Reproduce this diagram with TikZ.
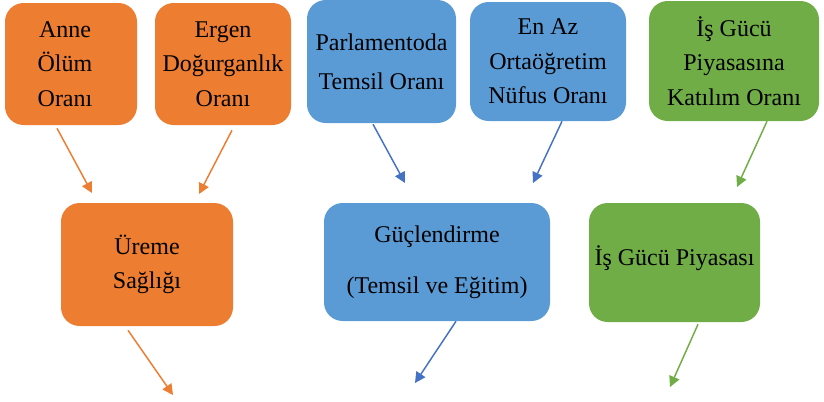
\documentclass[tikz,border=0pt]{standalone}
\usepackage{fontspec}
\setmainfont{Liberation Serif}
\newfontfamily\kutuyazi{Liberation Serif}
\usetikzlibrary{arrows.meta,calc}
\definecolor{turuncu}{HTML}{ED7D31}
\definecolor{mavi}{HTML}{5B9BD5}
\definecolor{koyumavi}{HTML}{4472C4}
\definecolor{yesil}{HTML}{70AD47}
\begin{document}
\begin{tikzpicture}[
    x=0.75pt, y=-0.75pt,
    kutu/.style={rectangle, rounded corners=14pt, align=center, inner sep=0pt,
        font=\kutuyazi\fontsize{18}{26}\selectfont},
    ok/.style={-{Triangle[length=8pt,width=8pt]}, line width=1.1pt}
]
    \useasboundingbox (0,0) rectangle (824,401);

    % Ust satir
    \node[kutu, fill=turuncu, minimum width=99pt, minimum height=91.5pt] (anne) at (71,64) {\hspace*{-9pt}\parbox{80pt}{\centering Anne\\Ölüm\\Oranı}};
    \node[kutu, fill=turuncu, minimum width=102pt, minimum height=91.5pt] (ergen) at (223,64) {Ergen\\Doğurganlık\\Oranı};
    \node[kutu, fill=mavi, minimum width=111.75pt, minimum height=92.25pt] (parl) at (381.5,61.5) {\raisebox{5pt}{\parbox{110pt}{\centering Parlamentoda\\[3pt]Temsil Oranı}}};
    \node[kutu, fill=mavi, minimum width=117pt, minimum height=89.25pt] (egitim) at (548,61.5) {En Az\\Ortaöğretim\\Nüfus Oranı};
    \node[kutu, fill=yesil, minimum width=127.5pt, minimum height=90pt] (katilim) at (734,61) {İş Gücü\\Piyasasına\\Katılım Oranı};

    % Alt satir
    \node[kutu, fill=turuncu, minimum width=129pt, minimum height=92.25pt] (ureme) at (147,264.5) {\raisebox{4pt}{\parbox{120pt}{\centering Üreme\\Sağlığı}}};
    \node[kutu, fill=mavi, minimum width=169.5pt, minimum height=88.5pt] (guc) at (437,262) {Güçlendirme\\[12pt](Temsil ve Eğitim)};
    \node[kutu, fill=yesil, minimum width=128.25pt, minimum height=89.25pt] (piyasa) at (674.5,262.5) {\raisebox{10pt}{İş Gücü Piyasası}};

    % Ok uclari
    \coordinate (u1) at (92,193);
    \coordinate (u2) at (199,194);
    \coordinate (u3) at (405,183);
    \coordinate (u4) at (533,183);
    \coordinate (u5) at (737,187);
    \coordinate (u6) at (173,395);
    \coordinate (u7) at (415,383);
    \coordinate (u8) at (670,387);

    % Oklar
    \draw[ok, turuncu] ($(anne.south)+(-14,3)$) -- (u1);
    \draw[ok, turuncu] ($(ergen.south)+(9,5)$) -- (u2);
    \draw[ok, koyumavi] ($(parl.south)+(-8.5,1)$) -- (u3);
    \draw[ok, koyumavi] ($(egitim.south)+(14,0)$) -- (u4);
    \draw[ok, yesil] ($(katilim.south)+(33,0)$) -- (u5);
    \draw[ok, turuncu] ($(ureme.south)+(-19,4)$) -- (u6);
    \draw[ok, koyumavi] ($(guc.south)+(19,0)$) -- (u7);
    \draw[ok, yesil] ($(piyasa.south)+(23.5,2)$) -- (u8);
\end{tikzpicture}
\end{document}
